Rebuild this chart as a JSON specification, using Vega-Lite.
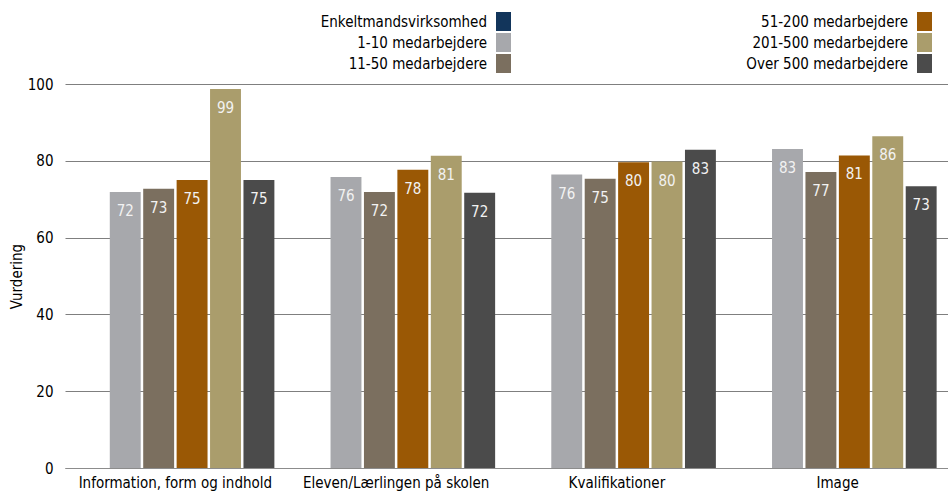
{
  "$schema": "https://vega.github.io/schema/vega-lite/v6.json",
  "width": 883,
  "height": 384,
  "autosize": {"type": "none"},
  "padding": {"left": 65, "top": 84, "right": 0, "bottom": 23},
  "background": "white",
  "config": {
    "font": "DejaVu Sans Condensed",
    "view": {"stroke": null},
    "axis": {"labelFont": "DejaVu Sans Condensed", "titleFont": "DejaVu Sans Condensed"},
    "legend": {"labelFont": "DejaVu Sans Condensed"}
  },
  "data": {
    "values": [
      {"kategori": "Information, form og indhold", "serie": "1-10 medarbejdere", "vurdering": 71.9},
      {"kategori": "Information, form og indhold", "serie": "11-50 medarbejdere", "vurdering": 72.7},
      {"kategori": "Information, form og indhold", "serie": "51-200 medarbejdere", "vurdering": 75.0},
      {"kategori": "Information, form og indhold", "serie": "201-500 medarbejdere", "vurdering": 98.7},
      {"kategori": "Information, form og indhold", "serie": "Over 500 medarbejdere", "vurdering": 75.0},
      {"kategori": "Eleven/Lærlingen på skolen", "serie": "1-10 medarbejdere", "vurdering": 75.8},
      {"kategori": "Eleven/Lærlingen på skolen", "serie": "11-50 medarbejdere", "vurdering": 71.9},
      {"kategori": "Eleven/Lærlingen på skolen", "serie": "51-200 medarbejdere", "vurdering": 77.7},
      {"kategori": "Eleven/Lærlingen på skolen", "serie": "201-500 medarbejdere", "vurdering": 81.3},
      {"kategori": "Eleven/Lærlingen på skolen", "serie": "Over 500 medarbejdere", "vurdering": 71.7},
      {"kategori": "Kvalifikationer", "serie": "1-10 medarbejdere", "vurdering": 76.4},
      {"kategori": "Kvalifikationer", "serie": "11-50 medarbejdere", "vurdering": 75.3},
      {"kategori": "Kvalifikationer", "serie": "51-200 medarbejdere", "vurdering": 79.6},
      {"kategori": "Kvalifikationer", "serie": "201-500 medarbejdere", "vurdering": 79.8},
      {"kategori": "Kvalifikationer", "serie": "Over 500 medarbejdere", "vurdering": 82.9},
      {"kategori": "Image", "serie": "1-10 medarbejdere", "vurdering": 83.1},
      {"kategori": "Image", "serie": "11-50 medarbejdere", "vurdering": 77.1},
      {"kategori": "Image", "serie": "51-200 medarbejdere", "vurdering": 81.4},
      {"kategori": "Image", "serie": "201-500 medarbejdere", "vurdering": 86.4},
      {"kategori": "Image", "serie": "Over 500 medarbejdere", "vurdering": 73.4}
    ]
  },
  "encoding": {
    "x": {
      "field": "kategori",
      "type": "nominal",
      "sort": ["Information, form og indhold", "Eleven/Lærlingen på skolen", "Kvalifikationer", "Image"],
      "scale": {"paddingInner": 0, "paddingOuter": 0},
      "axis": {
        "title": null,
        "labelAngle": 0,
        "ticks": false,
        "labelPadding": 7,
        "labelFontSize": 15,
        "labelLimit": 400,
        "labelColor": "#000000",
        "domainColor": "#8c8c8c",
        "domainWidth": 1,
        "grid": false
      }
    },
    "xOffset": {
      "field": "serie",
      "type": "nominal",
      "sort": ["Enkeltmandsvirksomhed", "1-10 medarbejdere", "11-50 medarbejdere", "51-200 medarbejdere", "201-500 medarbejdere", "Over 500 medarbejdere"],
      "scale": {
        "domain": ["Enkeltmandsvirksomhed", "1-10 medarbejdere", "11-50 medarbejdere", "51-200 medarbejdere", "201-500 medarbejdere", "Over 500 medarbejdere"],
        "paddingInner": 0.075,
        "paddingOuter": 0.34
      }
    },
    "y": {
      "field": "vurdering",
      "type": "quantitative",
      "scale": {"domain": [0, 100], "nice": false},
      "axis": {
        "title": "Vurdering",
        "titleFontSize": 15,
        "titleFontWeight": "normal",
        "titleColor": "#000000",
        "titlePadding": 3,
        "values": [0, 20, 40, 60, 80, 100],
        "domain": false,
        "ticks": false,
        "labelPadding": 12,
        "labelFontSize": 15,
        "labelColor": "#000000",
        "gridColor": "#7f7f7f",
        "gridWidth": 1,
        "gridOpacity": 1
      }
    }
  },
  "layer": [
    {
      "mark": {"type": "bar"},
      "encoding": {
        "color": {
          "field": "serie",
          "type": "nominal",
          "scale": {
            "domain": ["Enkeltmandsvirksomhed", "1-10 medarbejdere", "11-50 medarbejdere", "51-200 medarbejdere", "201-500 medarbejdere", "Over 500 medarbejdere"],
            "range": ["#12355b", "#a7a8ac", "#7b6f5f", "#9a5805", "#aa9d6c", "#4b4b4b"]
          },
          "legend": {
            "title": null,
            "orient": "none",
            "legendX": 429,
            "legendY": -72,
            "columns": 2,
            "columnPadding": 234,
            "rowPadding": 2,
            "labelAlign": "right",
            "labelOffset": -26,
            "labelFontSize": 15,
            "labelColor": "#000000",
            "labelLimit": 400,
            "symbolType": "M-0.79,-1H0.79V1H-0.79Z",
            "symbolSize": 361,
            "symbolStrokeWidth": 0,
            "symbolOpacity": 1
          }
        }
      }
    },
    {
      "mark": {"type": "text", "baseline": "alphabetic", "dy": 24, "fontSize": 15, "color": "#f2f2f2"},
      "encoding": {
        "text": {"field": "vurdering", "type": "quantitative", "format": ".0f"}
      }
    }
  ]
}
